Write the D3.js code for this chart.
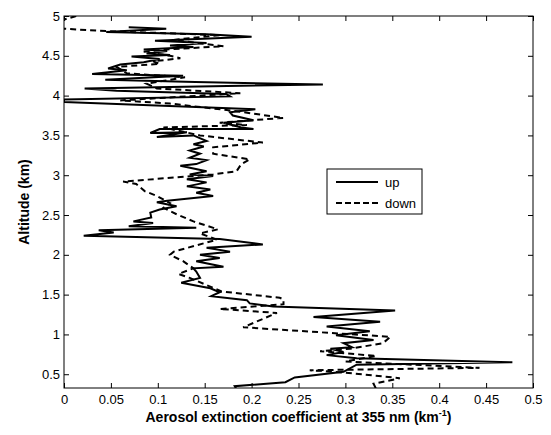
<!DOCTYPE html>
<html>
<head>
<meta charset="utf-8">
<script src="https://d3js.org/d3.v7.min.js"></script>
<style>
  body { margin: 0; background: #fff; }
  text { font-family: Arial, "Liberation Sans", sans-serif; fill: #000; }
  .tick text { font-size: 13px; }
  .tick line { stroke: #000; }
  .domain { display: none; }
</style>
</head>
<body>
<svg id="chart" width="551" height="435"></svg>
<script>
// extinction (km^-1), altitude (km) -- "up" profile, top to bottom
var upData = [
  [0.069,4.86],[0.109,4.84],[0.045,4.80],[0.152,4.77],[0.200,4.74],[0.097,4.69],[0.152,4.66],
  [0.113,4.63],[0.138,4.61],[0.085,4.58],[0.110,4.56],[0.088,4.53],[0.113,4.51],[0.072,4.49],
  [0.102,4.46],[0.085,4.42],[0.060,4.39],[0.047,4.34],[0.067,4.32],[0.030,4.27],[0.127,4.25],
  [0.044,4.20],[0.140,4.17],[0.276,4.14],[0.022,4.09],[0.056,4.06],[0.173,4.02],[0.177,3.99],
  [0.000,3.95],[0.000,3.92],[0.204,3.83],[0.177,3.79],[0.180,3.75],[0.202,3.69],[0.170,3.66],
  [0.189,3.60],[0.202,3.58],[0.102,3.58],[0.092,3.53],[0.131,3.54],[0.099,3.48],[0.138,3.50],
  [0.152,3.43],[0.138,3.39],[0.149,3.36],[0.134,3.31],[0.145,3.27],[0.134,3.22],[0.152,3.19],
  [0.141,3.14],[0.124,3.12],[0.152,3.05],[0.134,3.01],[0.159,2.99],[0.131,2.95],[0.152,2.91],
  [0.131,2.86],[0.156,2.82],[0.141,2.78],[0.159,2.74],[0.110,2.68],[0.099,2.66],[0.120,2.61],
  [0.102,2.57],[0.092,2.53],[0.093,2.47],[0.074,2.42],[0.095,2.40],[0.069,2.36],[0.141,2.34],
  [0.037,2.31],[0.053,2.28],[0.021,2.24],[0.166,2.20],[0.212,2.13],[0.152,2.09],[0.177,2.04],
  [0.145,2.00],[0.166,1.96],[0.141,1.92],[0.170,1.85],[0.138,1.83],[0.141,1.79],[0.145,1.71],
  [0.125,1.65],[0.156,1.58],[0.166,1.53],[0.157,1.48],[0.195,1.43],[0.198,1.39],[0.223,1.35],
  [0.353,1.30],[0.266,1.22],[0.337,1.16],[0.280,1.10],[0.326,1.04],[0.290,0.99],[0.330,0.93],
  [0.298,0.89],[0.307,0.84],[0.284,0.82],[0.298,0.78],[0.280,0.74],[0.312,0.70],[0.478,0.65],
  [0.312,0.62],[0.298,0.53],[0.246,0.46],[0.236,0.40],[0.182,0.35],[0.184,0.31]
];

// "down" profile, top to bottom
var downData = [
  [0.013,5.00],[-0.010,4.92],[0.000,4.84],[0.045,4.81],[0.166,4.76],[0.117,4.70],[0.170,4.62],
  [0.109,4.58],[0.085,4.55],[0.113,4.50],[0.124,4.47],[0.095,4.43],[0.102,4.40],[0.056,4.36],
  [0.067,4.28],[0.129,4.23],[0.088,4.15],[0.099,4.09],[0.188,4.03],[0.060,3.94],[0.113,3.90],
  [0.180,3.81],[0.234,3.72],[0.166,3.66],[0.195,3.63],[0.106,3.60],[0.145,3.50],[0.212,3.41],
  [0.159,3.35],[0.159,3.27],[0.198,3.20],[0.189,3.14],[0.184,3.05],[0.159,3.01],[0.063,2.92],
  [0.077,2.89],[0.086,2.80],[0.099,2.74],[0.113,2.65],[0.106,2.59],[0.120,2.51],[0.138,2.42],
  [0.164,2.32],[0.145,2.27],[0.163,2.19],[0.117,2.04],[0.113,2.00],[0.127,1.92],[0.138,1.83],
  [0.122,1.76],[0.134,1.71],[0.152,1.62],[0.168,1.54],[0.230,1.46],[0.234,1.44],[0.234,1.38],
  [0.166,1.32],[0.227,1.27],[0.191,1.09],[0.348,0.97],[0.340,0.89],[0.305,0.82],[0.273,0.79],
  [0.333,0.73],[0.300,0.66],[0.443,0.58],[0.262,0.55],[0.300,0.52],[0.358,0.45],[0.330,0.38],
  [0.333,0.31]
];

var xTicks = [0,0.05,0.1,0.15,0.2,0.25,0.3,0.35,0.4,0.45,0.5];
var yTicks = [0.5,1,1.5,2,2.5,3,3.5,4,4.5,5];
var seriesNames = ["up", "down"];

var pLeft = 64, pRight = 533, pTop = 16, pBottom = 388;

var svg = d3.select("#chart");

var x = d3.scaleLinear().domain([0, 0.5]).range([pLeft, pRight]);
var y = d3.scaleLinear().domain([0.327, 5]).range([pBottom, pTop]);

svg.append("rect").attr("width", 551).attr("height", 435).attr("fill", "#fff");

svg.append("clipPath").attr("id", "plotclip")
  .append("rect").attr("x", pLeft).attr("y", pTop)
  .attr("width", pRight - pLeft).attr("height", pBottom - pTop);

var line = d3.line()
  .x(function (d) { return x(d[0]); })
  .y(function (d) { return y(d[1]); });

var g = svg.append("g").attr("clip-path", "url(#plotclip)");

g.append("path").datum(upData)
  .attr("d", line)
  .attr("fill", "none").attr("stroke", "#000").attr("stroke-width", 2)
  .attr("stroke-linejoin", "miter").attr("stroke-miterlimit", 4);

g.append("path").datum(downData)
  .attr("d", line)
  .attr("fill", "none").attr("stroke", "#000").attr("stroke-width", 2)
  .attr("stroke-dasharray", "6,4");

// axes, ticks pointing inward
svg.append("g").attr("transform", "translate(0," + pBottom + ")")
  .call(d3.axisBottom(x).tickValues(xTicks).tickFormat(d3.format("~g"))
    .tickSizeInner(-5).tickSizeOuter(0).tickPadding(7));
svg.append("g").attr("transform", "translate(0," + pTop + ")")
  .call(d3.axisTop(x).tickValues(xTicks).tickFormat("")
    .tickSizeInner(-5).tickSizeOuter(0));
svg.append("g").attr("transform", "translate(" + pLeft + ",0)")
  .call(d3.axisLeft(y).tickValues(yTicks).tickFormat(d3.format("~g"))
    .tickSizeInner(-5).tickSizeOuter(0).tickPadding(4));
svg.append("g").attr("transform", "translate(" + pRight + ",0)")
  .call(d3.axisRight(y).tickValues(yTicks).tickFormat("")
    .tickSizeInner(-5).tickSizeOuter(0));

svg.selectAll(".tick text").attr("fill", "#000").style("font-size", "13px");

svg.append("rect")
  .attr("x", pLeft).attr("y", pTop)
  .attr("width", pRight - pLeft).attr("height", pBottom - pTop)
  .attr("fill", "none").attr("stroke", "#000").attr("stroke-width", 1);

// axis titles
var xt = svg.append("text")
  .attr("x", (pLeft + pRight) / 2).attr("y", 422)
  .attr("text-anchor", "middle")
  .style("font-size", "14px").style("font-weight", "bold");
xt.append("tspan").text("Aerosol extinction coefficient at 355 nm (km");
xt.append("tspan").attr("dy", -6).style("font-size", "9px").text("-1");
xt.append("tspan").attr("dy", 6).text(")");

svg.append("text")
  .attr("transform", "translate(29," + (pTop + pBottom) / 2 + ") rotate(-90)")
  .attr("text-anchor", "middle")
  .style("font-size", "14px").style("font-weight", "bold")
  .text("Altitude (km)");

// legend
var lg = svg.append("g").attr("transform", "translate(327,169)");
lg.append("rect").attr("width", 95).attr("height", 45)
  .attr("fill", "#fff").attr("stroke", "#000").attr("stroke-width", 1);
seriesNames.forEach(function (name, i) {
  var yy = 13 + i * 21;
  lg.append("line").attr("x1", 9).attr("x2", 51).attr("y1", yy).attr("y2", yy)
    .attr("stroke", "#000").attr("stroke-width", 2)
    .attr("stroke-dasharray", i === 1 ? "6,3" : null);
  lg.append("text").attr("x", 58).attr("y", yy + 5)
    .style("font-size", "13px").text(name);
});
</script>
</body>
</html>
